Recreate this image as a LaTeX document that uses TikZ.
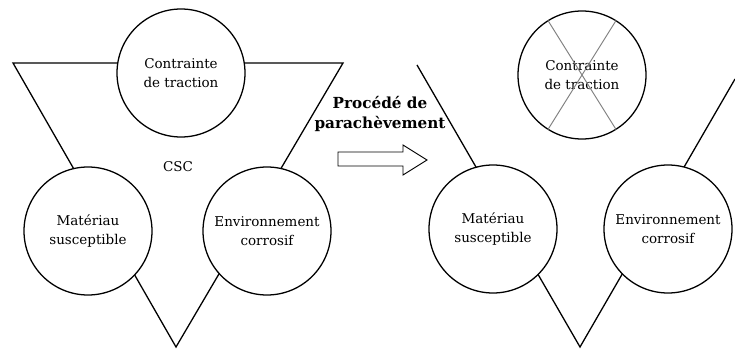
\documentclass[tikz,border=0pt]{standalone}
\usepackage{fontspec}
\setmainfont{DejaVu Serif}
\usetikzlibrary{positioning}

\begin{document}
\begin{tikzpicture}[
    x=0.03cm, y=-0.03cm,
    factor/.style={circle, minimum size=3.84cm, inner sep=0, draw=black,
        line width=1.1pt, fill=white, align=center,
        font=\fontsize{11.5}{16}\selectfont},
    side/.style={line width=1.1pt, line join=miter},
    cross/.style={draw=gray, line width=0.8pt},
    blockarrow/.style={line width=0.8pt, line join=miter},
    ]
    \useasboundingbox (0,0) rectangle (735,349);

    % before finishing
    \coordinate (tl) at (13,63);
    \coordinate (tr) at (343,63);
    \coordinate (apex) at (176,347);
    \draw [side] (tl) -- (tr) -- (apex) -- cycle;
    \node (traction) [factor] at (181,73) {Contrainte\\de traction};
    \node (material) [factor] at (88,231) {Matériau\\susceptible};
    \node (environ) [factor] at (267,231) {Environnement\\corrosif};
    \node (csc) at (178,167) [font=\fontsize{11.5}{16}\selectfont] {CSC};

    % finishing process
    \node (process) at (380,114) [align=center,
        font=\fontsize{13}{17}\selectfont\bfseries] {Procédé de\\parachèvement};
    \draw [blockarrow] (338,152) -- (403,152) -- (403,145) -- (427,160)
        -- (403,175) -- (403,166) -- (338,166) -- cycle;

    % after finishing
    \coordinate (tl2) at (417,65);
    \coordinate (tr2) at (735,79);
    \coordinate (apex2) at (580,347);
    \draw [side] (tl2) -- (apex2) -- (tr2);
    \node (traction2) [factor] at (582,75) {Contrainte\\de traction};
    \node (material2) [factor] at (493,229) {Matériau\\susceptible};
    \node (environ2) [factor] at (668,229) {Environnement\\corrosif};
    \draw [cross] (traction2.122) -- (traction2.302);
    \draw [cross] (traction2.58) -- (traction2.238);
\end{tikzpicture}
\end{document}
